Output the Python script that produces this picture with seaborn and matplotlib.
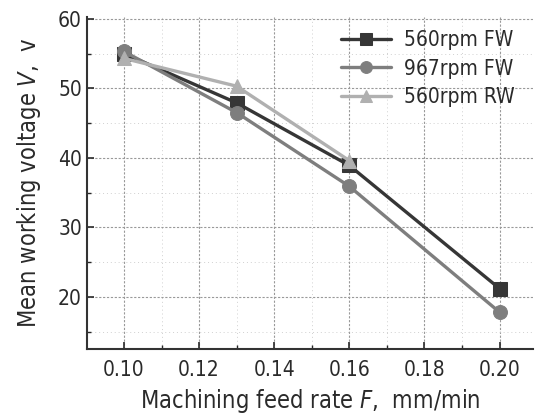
import matplotlib
matplotlib.use("Agg")
import matplotlib.pyplot as plt
import seaborn as sns
import pandas as pd
from matplotlib.ticker import MultipleLocator

feed = [0.10, 0.13, 0.16, 0.20]
v_560_fw = [55.0, 47.9, 38.9, 21.2]
v_967_fw = [55.3, 46.5, 35.9, 17.8]
v_560_rw = [54.3, 50.3, 39.6]
labels = ["560rpm FW", "967rpm FW", "560rpm RW"]
xtick_labels = ["0.10", "0.12", "0.14", "0.16", "0.18", "0.20"]

rows = []
for lab, vals in zip(labels, [v_560_fw, v_967_fw, v_560_rw]):
    for f, v in zip(feed, vals):
        rows.append({"F": f, "V": v, "series": lab})
df = pd.DataFrame(rows)

sns.set_style("ticks")
plt.rcParams['font.family'] = ['DejaVu Sans']
plt.rcParams['font.stretch'] = 'condensed'
plt.rcParams['mathtext.fontset'] = 'custom'
plt.rcParams['mathtext.it'] = 'DejaVu Sans:italic'

fig = plt.figure(figsize=(5.36, 4.17), dpi=100)
ax = fig.add_axes([0.162, 0.163, 0.833, 0.797])

palette = {"560rpm FW": "#363636", "967rpm FW": "#7e7e7e", "560rpm RW": "#b0b0b0"}
markers = {"560rpm FW": "s", "967rpm FW": "o", "560rpm RW": "^"}
sns.lineplot(data=df, x="F", y="V", hue="series", style="series", palette=palette,
             markers=markers, dashes=False, markersize=10, linewidth=2.4,
             markeredgecolor=None, ax=ax, hue_order=labels, style_order=labels, sort=False)

ax.set_xlim(0.0901, 0.209)
ax.set_ylim(12.5, 60.3)
ax.xaxis.set_minor_locator(MultipleLocator(0.01))
ax.yaxis.set_minor_locator(MultipleLocator(5))
ax.set_xticks([0.10, 0.12, 0.14, 0.16, 0.18, 0.20])
ax.set_xticklabels(xtick_labels)
ax.set_yticks([20, 30, 40, 50, 60])
ax.grid(True, which="major", color="#999999", linestyle=(0, (2, 1.5)), linewidth=0.8)
ax.grid(True, which="minor", color="#d0d0d0", linestyle=(0, (1, 3)), linewidth=0.7)
ax.tick_params(which="major", direction="in", length=5, width=1.2, labelsize=15,
               colors="#2a2a2a", labelcolor="#2a2a2a")
ax.tick_params(axis="x", which="major", pad=8)
ax.tick_params(which="minor", direction="in", length=3, width=1)
for s in ["top", "right"]:
    ax.spines[s].set_visible(False)
for s in ["left", "bottom"]:
    ax.spines[s].set_linewidth(1.5)
    ax.spines[s].set_color("#333333")

ax.set_xlabel("Machining feed rate $\\it{F}$,  mm/min", fontsize=17, color="#2a2a2a", labelpad=5)
ax.set_ylabel("Mean working voltage $\\it{V}$,  v", fontsize=17, color="#2a2a2a", labelpad=11)

leg = ax.legend(loc="upper right", bbox_to_anchor=(1.0, 1.015), frameon=False, fontsize=15,
                handlelength=2.4, labelspacing=0.4, handletextpad=0.6, markerscale=0.85,
                title=None)
for t in leg.get_texts():
    t.set_color("#2a2a2a")

fig.savefig("out.png", dpi=100)
